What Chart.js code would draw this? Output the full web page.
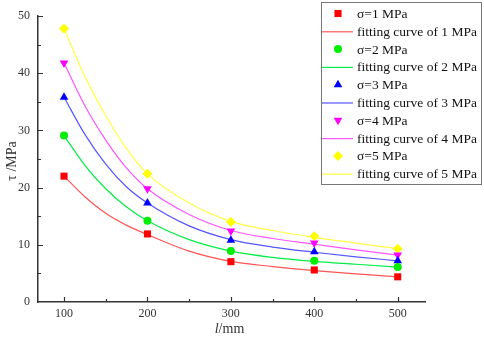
<!DOCTYPE html>
<html>
<head>
<meta charset="utf-8">
<script src="https://cdn.jsdelivr.net/npm/chart.js@4"></script>
<style>
  html, body { margin: 0; padding: 0; background: #fff; }
  #wrap { width: 484px; height: 342px; }
</style>
</head>
<body>
<div id="wrap"><canvas id="monGraphique" width="484" height="342"></canvas></div>
<script>
// valeurs
const lengths = [100, 200, 300, 400, 500];
const xTicks = [100, 200, 300, 400, 500];
const yTicks = [0, 10, 20, 30, 40, 50];
const sigmaLabels = ['σ=1 MPa', 'σ=2 MPa', 'σ=3 MPa', 'σ=4 MPa', 'σ=5 MPa'];
const fitLabels = ['fitting curve of 1 MPa', 'fitting curve of 2 MPa', 'fitting curve of 3 MPa',
                   'fitting curve of 4 MPa', 'fitting curve of 5 MPa'];
// points mesurés
const tau1 = [22.0, 11.9, 7.05, 5.6, 4.4];
const tau2 = [29.1, 14.2, 8.9, 7.2, 6.1];
const tau3 = [35.8, 17.3, 10.8, 8.8, 7.2];
const tau4 = [41.8, 19.8, 12.4, 10.3, 8.2];
const tau5 = [47.8, 22.4, 14.0, 11.5, 9.3];
// courbes d'ajustement
const curveX = [100, 125, 150, 175, 200, 250, 300, 350, 400, 450, 500];
const fit1 = [22.0, 18.4, 15.5, 13.4, 11.8, 8.9, 7.1, 6.2, 5.5, 4.9, 4.4];
const fit2 = [29.1, 23.9, 19.8, 16.6, 14.2, 10.9, 8.9, 7.8, 7.1, 6.6, 6.1];
const fit3 = [35.8, 29.3, 24.1, 20.1, 17.3, 13.3, 10.9, 9.6, 8.7, 7.9, 7.2];
const fit4 = [41.8, 34.3, 28.3, 23.4, 19.8, 15.3, 12.5, 11.1, 10.1, 9.1, 8.2];
const fit5 = [47.8, 39.4, 32.6, 26.8, 22.4, 17.3, 14.1, 12.5, 11.3, 10.3, 9.3];

const allTau = [tau1, tau2, tau3, tau4, tau5];
const allFit = [fit1, fit2, fit3, fit4, fit5];
const markerColors = ['#ff0000', '#00ee00', '#0000ff', '#ff00ff', '#ffff00'];
const lineColors = ['#ff5555', '#00ee44', '#5555ff', '#ff55ff', '#ffff44'];
const pointStyles = ['rect', 'circle', 'triangle', 'triangle', 'rectRot'];
const pointRadius = [5, 4, 5, 5, 5];
const pointRot = [0, 0, 0, 180, 0];

const pts = (xs, arr) => xs.map((x, i) => ({ x: x, y: arr[i] }));

const datasets = [];
allTau.forEach((arr, k) => {
    datasets.push({
        label: sigmaLabels[k],
        data: pts(lengths, arr),
        showLine: false,
        pointStyle: pointStyles[k],
        pointRadius: pointRadius[k],
        pointRotation: pointRot[k],
        backgroundColor: markerColors[k],
        borderColor: markerColors[k],
        borderWidth: 0,
        order: 0
    });
    datasets.push({
        label: fitLabels[k],
        data: pts(curveX, allFit[k]),
        showLine: true,
        pointRadius: 0,
        borderColor: lineColors[k],
        borderWidth: 1.2,
        cubicInterpolationMode: 'monotone',
        order: 1
    });
});

const serif = '"Liberation Serif", "Times New Roman", serif';

// ticks vers l'intérieur + titres + légende encadrée
const decor = {
    id: 'decor',
    afterDraw(chart) {
        const ctx = chart.ctx;
        const xs = chart.scales.x, ys = chart.scales.y;
        const area = chart.chartArea;
        ctx.save();
        ctx.strokeStyle = '#333';
        ctx.lineWidth = 1.2;
        ctx.beginPath();
        for (let v = 100; v <= 500; v += 50) {
            const px = Math.round(xs.getPixelForValue(v)) + 0.5;
            const len = v % 100 === 0 ? 5 : 3;
            ctx.moveTo(px, area.bottom);
            ctx.lineTo(px, area.bottom - len);
        }
        for (let v = 5; v <= 50; v += 5) {
            const py = Math.round(ys.getPixelForValue(v)) + 0.5;
            const len = v % 10 === 0 ? 5 : 3;
            ctx.moveTo(area.left, py);
            ctx.lineTo(area.left + len, py);
        }
        ctx.stroke();

        // titres des axes
        ctx.fillStyle = '#333';
        ctx.textBaseline = 'middle';
        ctx.font = 'italic 14px ' + serif;
        const w1 = ctx.measureText('l').width;
        ctx.font = '14px ' + serif;
        const w2 = ctx.measureText('/mm').width;
        const cx = (area.left + area.right) / 2 - 2;
        let x0 = cx - (w1 + w2) / 2;
        ctx.textAlign = 'left';
        ctx.font = 'italic 14px ' + serif;
        ctx.fillText('l', x0, 329);
        ctx.font = '14px ' + serif;
        ctx.fillText('/mm', x0 + w1, 329);

        ctx.save();
        ctx.translate(12, (area.top + area.bottom) / 2 + 2);
        ctx.rotate(-Math.PI / 2);
        ctx.textAlign = 'center';
        ctx.font = '14px ' + serif;
        ctx.fillText('τ /MPa', 0, 0);
        ctx.restore();

        // légende
        const bx = 321, by = 2, bw = 160, bh = 182;
        ctx.fillStyle = '#fff';
        ctx.fillRect(bx, by, bw, bh);
        ctx.strokeStyle = '#777';
        ctx.lineWidth = 1;
        ctx.strokeRect(bx + 0.5, by + 0.5, bw, bh);
        ctx.font = '13.5px ' + serif;
        ctx.textAlign = 'left';
        chart.data.datasets.forEach((ds, i) => {
            const ry = 13.5 + i * 17.8;
            if (ds.showLine) {
                ctx.strokeStyle = ds.borderColor;
                ctx.lineWidth = 1.2;
                ctx.beginPath();
                ctx.moveTo(322, ry + 0.5);
                ctx.lineTo(353, ry + 0.5);
                ctx.stroke();
            } else {
                ctx.fillStyle = ds.backgroundColor;
                ctx.strokeStyle = ds.borderColor;
                Chart.helpers.drawPoint(ctx, {
                    pointStyle: ds.pointStyle,
                    radius: ds.pointRadius,
                    rotation: ds.pointRotation,
                    borderWidth: 0
                }, 338, ry);
            }
            ctx.fillStyle = '#111';
            ctx.fillText(ds.label, 357, ry + 1);
        });
        ctx.restore();
    }
};

const ctx = document.getElementById('monGraphique').getContext('2d');
new Chart(ctx, {
    type: 'scatter',
    data: { datasets: datasets },
    options: {
        responsive: false,
        animation: false,
        layout: { padding: { top: 16, right: 59, left: 0, bottom: 0 } },
        plugins: { legend: { display: false }, tooltip: { enabled: false } },
        scales: {
            x: {
                type: 'linear',
                min: 68.8,
                max: 532.7,
                afterBuildTicks: s => { s.ticks = xTicks.map(v => ({ value: v })); },
                afterFit: s => { s.height = 40; },
                grid: { display: false, drawTicks: false },
                border: { display: true, color: '#333', width: 1.5 },
                ticks: { color: '#333', padding: 5, font: { family: serif, size: 12 } }
            },
            y: {
                min: 0,
                max: 50,
                afterBuildTicks: s => { s.ticks = yTicks.map(v => ({ value: v })); },
                afterFit: s => { s.width = 38; },
                grid: { display: false, drawTicks: false },
                border: { display: true, color: '#333', width: 1.5 },
                ticks: { color: '#333', padding: 8, font: { family: serif, size: 12 } }
            }
        }
    },
    plugins: [decor]
});
</script>
</body>
</html>
